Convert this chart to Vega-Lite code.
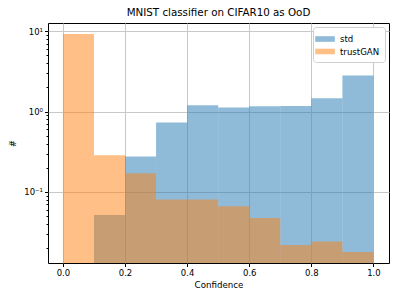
{
  "$schema": "https://vega.github.io/schema/vega-lite/v6.json",
  "width": 341,
  "height": 240,
  "autosize": {"type": "none"},
  "padding": {"left": 48, "top": 23, "right": 10, "bottom": 36},
  "title": {"text": "MNIST classifier on CIFAR10 as OoD", "font": "DejaVu Sans", "fontSize": 10.3, "fontWeight": "normal", "color": "black", "offset": 5},
  "config": {
    "view": {"stroke": "black", "strokeWidth": 1},
    "font": "DejaVu Sans"
  },
  "data": {
    "values": [
      {"series": "std", "start": 0.1, "end": 0.2, "count": 0.0518},
      {"series": "std", "start": 0.2, "end": 0.3, "count": 0.277},
      {"series": "std", "start": 0.3, "end": 0.4, "count": 0.73},
      {"series": "std", "start": 0.4, "end": 0.5, "count": 1.20},
      {"series": "std", "start": 0.5, "end": 0.6, "count": 1.12},
      {"series": "std", "start": 0.6, "end": 0.7, "count": 1.16},
      {"series": "std", "start": 0.7, "end": 0.8, "count": 1.17},
      {"series": "std", "start": 0.8, "end": 0.9, "count": 1.46},
      {"series": "std", "start": 0.9, "end": 1.0, "count": 2.80},
      {"series": "trustGAN", "start": 0.0, "end": 0.1, "count": 9.18},
      {"series": "trustGAN", "start": 0.1, "end": 0.2, "count": 0.286},
      {"series": "trustGAN", "start": 0.2, "end": 0.3, "count": 0.171},
      {"series": "trustGAN", "start": 0.3, "end": 0.4, "count": 0.0805},
      {"series": "trustGAN", "start": 0.4, "end": 0.5, "count": 0.0805},
      {"series": "trustGAN", "start": 0.5, "end": 0.6, "count": 0.0664},
      {"series": "trustGAN", "start": 0.6, "end": 0.7, "count": 0.0475},
      {"series": "trustGAN", "start": 0.7, "end": 0.8, "count": 0.022},
      {"series": "trustGAN", "start": 0.8, "end": 0.9, "count": 0.0242},
      {"series": "trustGAN", "start": 0.9, "end": 1.0, "count": 0.018}
    ]
  },
  "mark": {"type": "bar", "opacity": 0.5, "clip": true, "strokeWidth": 0},
  "encoding": {
    "x": {
      "field": "start", "type": "quantitative",
      "scale": {"domain": [-0.048, 1.05], "nice": false, "zero": false},
      "axis": {
        "title": "Confidence", "titleFontSize": 8.7, "titleFontWeight": "normal", "titleColor": "black", "titlePadding": 3,
        "values": [0, 0.2, 0.4, 0.6, 0.8, 1.0], "format": ".1f",
        "labelFontSize": 8.5, "labelColor": "black", "labelPadding": 2,
        "tickSize": 3.5, "tickColor": "black", "domain": false,
        "grid": true, "gridColor": "#c8c8c8", "gridWidth": 1
      }
    },
    "x2": {"field": "end"},
    "y": {
      "field": "count", "type": "quantitative",
      "scale": {"type": "log", "domain": [0.0131, 12.6], "nice": false},
      "axis": {
        "title": "#", "titleFontSize": 8.7, "titleFontWeight": "normal", "titleColor": "black", "titlePadding": 6,
        "values": [0.02, 0.03, 0.04, 0.05, 0.06, 0.07, 0.08, 0.09, 0.1, 0.2, 0.3, 0.4, 0.5, 0.6, 0.7, 0.8, 0.9, 1, 2, 3, 4, 5, 6, 7, 8, 9, 10],
        "labelExpr": "datum.value == 10 ? '10¹' : datum.value == 1 ? '10⁰' : datum.value == 0.1 ? '10⁻¹' : ''",
        "labelFontSize": 8.5, "labelColor": "black", "labelPadding": 2,
        "tickColor": "black", "domain": false,
        "tickSize": {"condition": {"test": "datum.value == 10 || datum.value == 1 || datum.value == 0.1", "value": 3.5}, "value": 2},
        "grid": true, "gridColor": "#c8c8c8", "gridWidth": 1,
        "gridOpacity": {"condition": {"test": "datum.value == 10 || datum.value == 1 || datum.value == 0.1", "value": 1}, "value": 0}
      }
    },
    "y2": {"datum": 0.001},
    "color": {
      "field": "series", "type": "nominal",
      "scale": {"domain": ["std", "trustGAN"], "range": ["#1f77b4", "#ff7f0e"]},
      "legend": {
        "title": null, "orient": "top-right", "offset": 4,
        "labelFontSize": 8.6, "labelColor": "black", "labelOffset": 8,
        "symbolType": "M-1.4,-0.4H1.4V0.4H-1.4Z", "symbolSize": 196, "symbolOpacity": 0.5, "symbolStrokeWidth": 0,
        "fillColor": "white", "strokeColor": "#d0d0d0", "cornerRadius": 3, "padding": 5, "rowPadding": 0.5
      }
    }
  }
}
